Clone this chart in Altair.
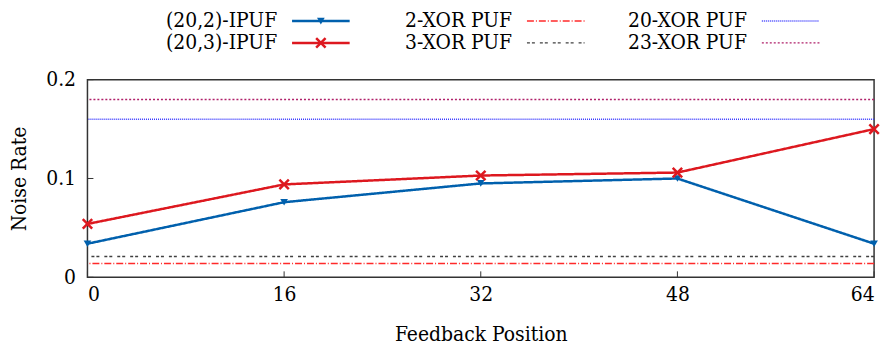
import altair as alt
import pandas as pd

# ---- data ----
positions = [0, 16, 32, 48, 64]
ipuf_20_2 = [0.034, 0.076, 0.095, 0.100, 0.034]
ipuf_20_3 = [0.054, 0.094, 0.103, 0.106, 0.150]

ref_names = ["2-XOR PUF", "3-XOR PUF", "20-XOR PUF", "23-XOR PUF"]
ref_values = [0.014, 0.021, 0.160, 0.180]

x_ticks = [0, 16, 32, 48, 64]
y_ticks = [0, 0.1, 0.2]

series_names = ["(20,2)-IPUF", "(20,3)-IPUF"]

# ---- styles ----
all_names = series_names + ref_names
colors = ["#0060ad", "#dd181f", "#ff2a2a", "#404040", "#3a3aff", "#b0206a"]
dashes = [[1, 0], [1, 0], [7, 2, 1, 2], [3, 2, 3, 5], [1, 1], [2, 2]]
XPATH = "M-1,-1L1,1M-1,1L1,-1"

FONT = "DejaVu Serif Condensed, DejaVu Serif"
FS = 21
W, H = 792, 199

color_scale = alt.Scale(domain=all_names, range=colors)
dash_scale = alt.Scale(domain=all_names, range=dashes)

rows = []
for name, vals in zip(series_names, [ipuf_20_2, ipuf_20_3]):
    for p, v in zip(positions, vals):
        rows.append({"pos": p, "val": v, "name": name})
df = pd.DataFrame(rows)
ref_df = pd.DataFrame({"name": ref_names, "val": ref_values})

xs = alt.Scale(domain=[0, 64], nice=False, zero=False)
ys = alt.Scale(domain=[0, 0.2], nice=False)

lines = alt.Chart(df).mark_line(strokeWidth=2.5).encode(
    x=alt.X("pos:Q", scale=xs,
            axis=alt.Axis(values=x_ticks, title="Feedback Position", tickSize=0,
                          labelPadding=6, titlePadding=20, domain=False, grid=False)),
    y=alt.Y("val:Q", scale=ys,
            axis=alt.Axis(values=y_ticks, format=".1~f", title="Noise Rate", tickSize=0,
                          labelPadding=12, titlePadding=16, domain=False, grid=False)),
    color=alt.Color("name:N", scale=color_scale, legend=None),
    strokeDash=alt.StrokeDash("name:N", scale=dash_scale, legend=None),
)
tri = alt.Chart(df).transform_filter(alt.datum.name == series_names[0]).mark_point(
    filled=True, size=60, shape="triangle-down", opacity=1).encode(
    x=alt.X("pos:Q", scale=xs), y=alt.Y("val:Q", scale=ys),
    color=alt.Color("name:N", scale=color_scale, legend=None))
crs = alt.Chart(df).transform_filter(alt.datum.name == series_names[1]).mark_point(
    filled=False, size=90, shape=XPATH, strokeWidth=2.5, opacity=1).encode(
    x=alt.X("pos:Q", scale=xs), y=alt.Y("val:Q", scale=ys),
    color=alt.Color("name:N", scale=color_scale, legend=None))
refs = alt.Chart(ref_df).mark_rule(strokeWidth=1.4).encode(
    y=alt.Y("val:Q", scale=ys),
    color=alt.Color("name:N", scale=color_scale, legend=None),
    strokeDash=alt.StrokeDash("name:N", scale=dash_scale, legend=None),
)
xt = alt.Chart(pd.DataFrame({"t": x_ticks})).mark_rule(color="#333", strokeWidth=1).encode(
    x=alt.X("t:Q", scale=xs), y=alt.value(H), y2=alt.value(H - 6))
yt = alt.Chart(pd.DataFrame({"t": y_ticks})).mark_rule(color="#333", strokeWidth=1).encode(
    y=alt.Y("t:Q", scale=ys), x=alt.value(0), x2=alt.value(6))

main_chart = alt.layer(refs, lines, tri, crs, xt, yt).properties(
    width=W, height=H, view=alt.ViewBackground(stroke="#333", strokeWidth=1.5))

# ---- custom legend (label left of sample) ----
leg_rows = []
for i, name in enumerate(all_names):
    col = [0, 0, 1, 1, 2, 2][i]
    row = i % 2
    tx = 191 + col * 236.5
    leg_rows.append({"name": name, "tx": tx, "lx1": tx + 15, "lx2": tx + 73,
                     "lm": tx + 44, "ly": 12 + row * 22})
leg = pd.DataFrame(leg_rows)
LH = 63
lt = alt.Chart(leg).mark_text(align="right", baseline="middle", font=FONT, fontSize=FS, color="black").encode(
    x=alt.X("tx:Q", scale=None), y=alt.Y("ly:Q", scale=None), text="name:N")
ll = alt.Chart(leg).mark_rule().encode(
    x=alt.X("lx1:Q", scale=None), x2="lx2:Q", y=alt.Y("ly:Q", scale=None),
    color=alt.Color("name:N", scale=color_scale, legend=None),
    strokeDash=alt.StrokeDash("name:N", scale=dash_scale, legend=None),
    strokeWidth=alt.condition(alt.FieldOneOfPredicate(field="name", oneOf=series_names),
                              alt.value(2.5), alt.value(1.4)),
)
ltri = alt.Chart(leg).transform_filter(alt.datum.name == series_names[0]).mark_point(
    filled=True, size=60, shape="triangle-down", opacity=1).encode(
    x=alt.X("lm:Q", scale=None), y=alt.Y("ly:Q", scale=None),
    color=alt.Color("name:N", scale=color_scale, legend=None))
lcrs = alt.Chart(leg).transform_filter(alt.datum.name == series_names[1]).mark_point(
    filled=False, size=90, shape=XPATH, strokeWidth=2.5, opacity=1).encode(
    x=alt.X("lm:Q", scale=None), y=alt.Y("ly:Q", scale=None),
    color=alt.Color("name:N", scale=color_scale, legend=None))

legend_chart = alt.layer(lt, ll, ltri, lcrs).properties(
    width=W, height=LH, view=alt.ViewBackground(stroke=None))

chart = alt.vconcat(legend_chart, main_chart, spacing=8, bounds="flush").configure_axis(
    labelFont=FONT, titleFont=FONT, labelFontSize=FS, titleFontSize=FS,
    labelColor="black", titleColor="black", titleFontWeight="normal",
).properties(padding={"left": 0, "top": 0, "right": 0, "bottom": 0})

chart.save("out.html", embed_options={"renderer": "svg", "actions": False})
